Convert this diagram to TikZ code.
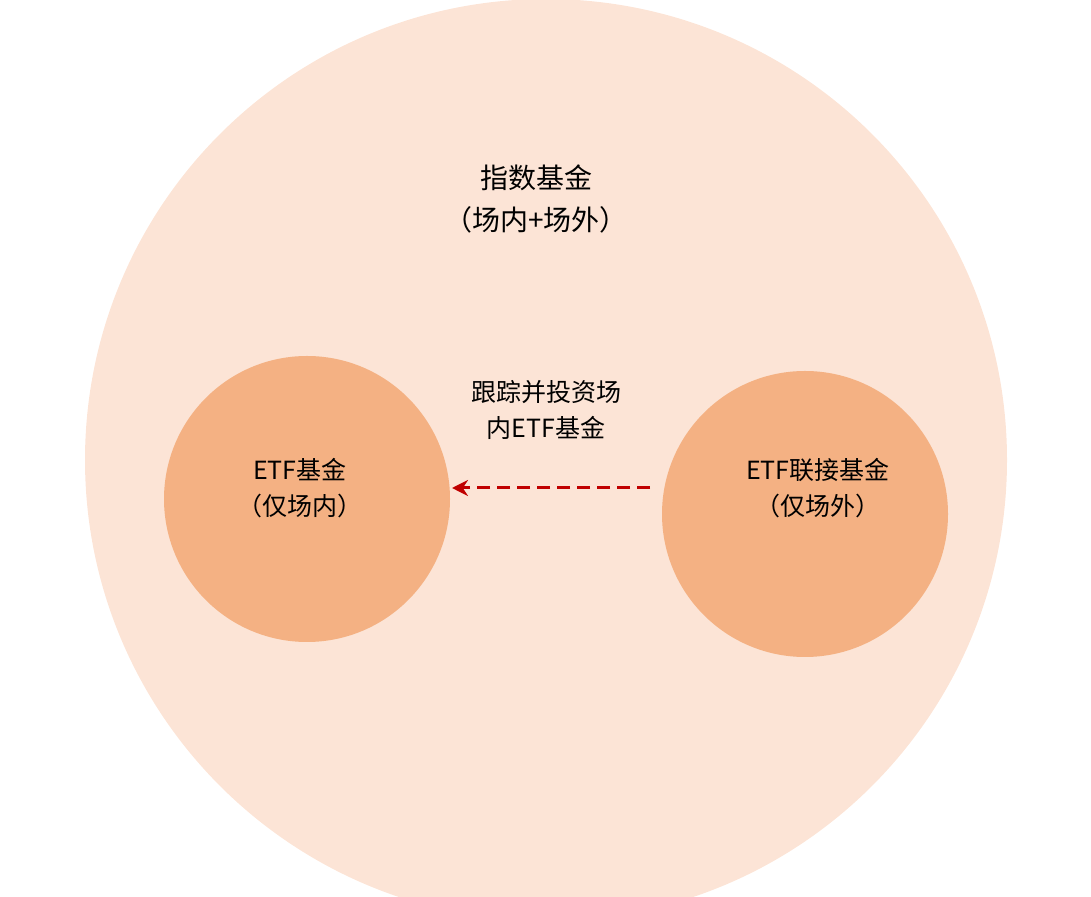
\documentclass[tikz,border=0pt]{standalone}
\usepackage{fontspec}
\setmainfont{Noto Sans CJK SC}
\usetikzlibrary{arrows.meta}
\definecolor{bigc}{HTML}{FCE4D6}
\definecolor{smallc}{HTML}{F4B183}
\definecolor{arr}{HTML}{C00000}
\begin{document}
\begin{tikzpicture}[x=1pt,y=1pt,
  lbl/.style={font=\fontsize{25}{36}\selectfont,align=center,text=black},
  ball/.style={circle,fill=smallc,minimum size=286pt,inner sep=0pt}]
\useasboundingbox (0,0) rectangle (1091,896);
\begin{scope}
\clip (0,0) rectangle (1091,896);
\fill[bigc] (546,436) circle (461);
\end{scope}
\node[lbl,font=\fontsize{28}{42}\selectfont] (title) at (536,697) {指数基金\\（场内+场外）};
\node[ball] (etf) at (307,397) {};
\node[lbl] (etft) at (300,408) {ETF基金\\（仅场内）};
\node[ball] (link) at (805,382) {};
\node[lbl] (linkt) at (818,408) {ETF联接基金\\（仅场外）};
\node[lbl] (rel) at (546,486) {跟踪并投资场\\内ETF基金};
\coordinate (a1) at (650,408);
\coordinate (a2) at (452,408);
\draw[arr,line width=3pt,dash pattern=on 13pt off 7pt,-{Stealth[length=16pt,width=16pt]}] (a1) -- (a2);
\end{tikzpicture}
\end{document}
